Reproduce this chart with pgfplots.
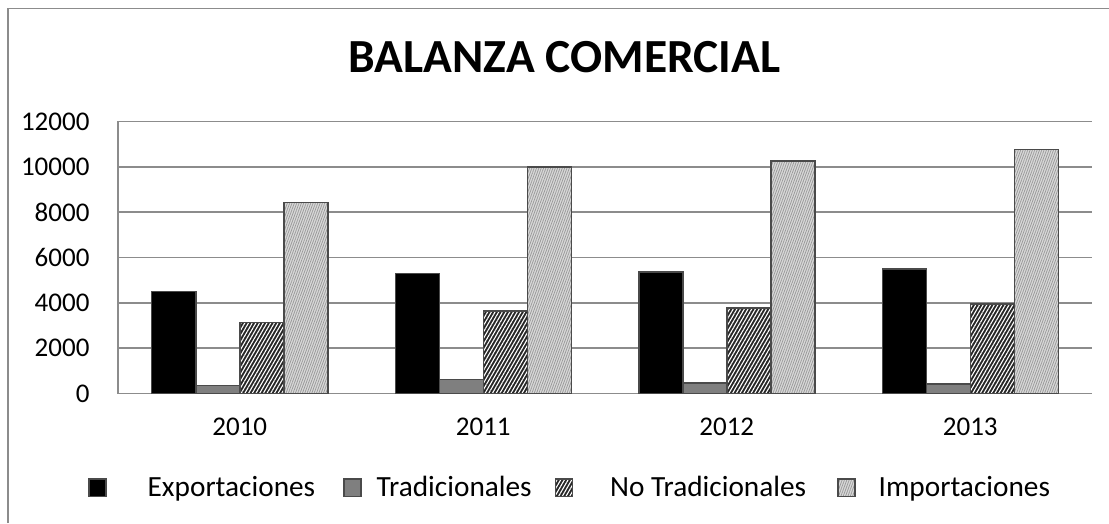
\documentclass[border=0pt]{standalone}
\usepackage{fontspec}
\setmainfont{Carlito}
\usepackage{pgfplots}
\pgfplotsset{compat=1.18}
\usetikzlibrary{patterns.meta}

\definecolor{gridc}{HTML}{8C8C8C}
\definecolor{edgec}{HTML}{4A4A4A}
\definecolor{tradc}{HTML}{7F7F7F}
\definecolor{nofill}{HTML}{262626}
\definecolor{impfill}{HTML}{DADADA}
\definecolor{impline}{HTML}{9A9A9A}

\begin{document}
\begin{tikzpicture}
\path[use as bounding box] (0pt,0pt) rectangle (1109pt,523pt);
\draw[gridc, line width=1.5pt] (8pt,0pt) -- (8pt,514.5pt) -- (1109pt,514.5pt);
\node[font=\fontsize{47.5}{52}\selectfont\bfseries, inner sep=0pt] at (564.5pt,466pt) {BALANZA COMERCIAL};
\begin{axis}[
  at={(118pt,129.5pt)}, anchor=south west,
  width=974pt, height=272pt, scale only axis,
  xmin=-0.5, xmax=3.5, ymin=0, ymax=12000,
  ybar=0pt, bar width=44pt,
  xtick={0,1,2,3}, xticklabels={2010,2011,2012,2013},
  ytick={0,2000,4000,6000,8000,10000,12000},
  scaled y ticks=false,
  ymajorgrids, grid style={gridc, line width=1.5pt},
  axis x line*=bottom, axis y line*=left,
  axis line style={gridc, line width=1.5pt},
  major tick length=0pt,
  tick label style={font=\fontsize{27}{31}\selectfont},
  /pgf/number format/assume math mode=true,
  /pgf/number format/1000 sep={},
  yticklabel style={xshift=-25pt},
  xticklabel style={yshift=-21pt},
  legend columns=4,
  legend style={draw=none, fill=none, inner sep=0pt, column sep=0pt,
    nodes={inner sep=0pt, font=\fontsize{29.3}{33}\selectfont},
    at={(-0.0308,-0.345)}, anchor=west},
  legend cell align=left,
  legend image code/.code={\draw[#1, line width=1.5pt] (0pt,-9pt) rectangle (17pt,8.5pt);},
]
\addplot[draw=edgec, line width=1.5pt, fill=black] coordinates {(0,4500) (1,5300) (2,5350) (3,5500)};
\addlegendentry{\hspace{41pt}Exportaciones\rule{28pt}{0pt}}
\addplot[draw=edgec, line width=1.5pt, fill=tradc] coordinates {(0,350) (1,620) (2,470) (3,425)};
\addlegendentry{\hspace{15pt}Tradicionales\rule{23pt}{0pt}}
\addplot[draw=edgec, line width=1.5pt, fill=nofill, postaction={pattern={Lines[angle=60, distance=3.2pt, line width=1.1pt]}, pattern color=white}] coordinates {(0,3130) (1,3650) (2,3770) (3,3940)};
\addlegendentry{\hspace{37pt}No Tradicionales\rule{31pt}{0pt}}
\addplot[draw=edgec, line width=1.5pt, fill=impfill, postaction={pattern={Lines[angle=70, distance=2.2pt, line width=0.8pt]}, pattern color=impline}] coordinates {(0,8430) (1,9990) (2,10250) (3,10770)};
\addlegendentry{\hspace{23pt}Importaciones}
\end{axis}
\end{tikzpicture}
\end{document}
